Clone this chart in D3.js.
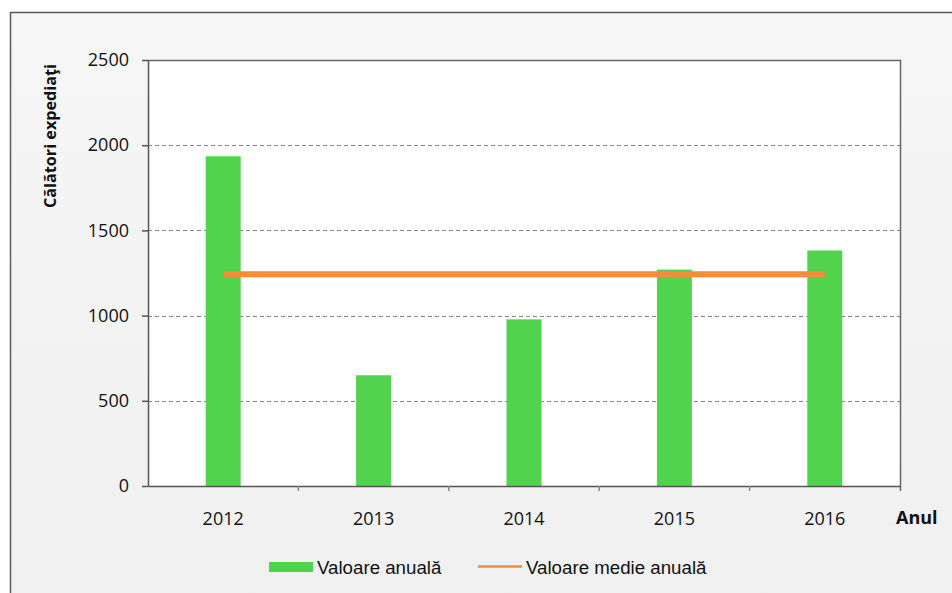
<!DOCTYPE html>
<html><head><meta charset="utf-8">
<script src="https://cdn.jsdelivr.net/npm/d3@7"></script>
<style>body{margin:0;background:#fff;}svg{display:block;}</style>
</head><body>
<svg id="c" width="952" height="593"></svg>
<script>
const years = ["2012","2013","2014","2015","2016"];
const annualValues = [1935, 650, 978, 1270, 1382];
const yTicks = [0, 500, 1000, 1500, 2000, 2500];
const seriesNames = ["Valoare anuală", "Valoare medie anuală"];
const yTitle = "Călători expediaţi";
const xTitle = "Anul";

const meanValue = d3.mean(annualValues);
const svg = d3.select("#c");
const m = {l:148, t:60, r:900, b:486};

// outer frame
const defs = svg.append("defs");
const g1 = defs.append("linearGradient").attr("id","bg").attr("x1",0).attr("y1",0).attr("x2",0).attr("y2",1);
g1.append("stop").attr("offset","0").attr("stop-color","#f6f6f6");
g1.append("stop").attr("offset","1").attr("stop-color","#f0f0f0");
svg.append("rect").attr("x",10.5).attr("y",12.5).attr("width",960).attr("height",600)
  .attr("fill","url(#bg)").attr("stroke","#5a5a5a").attr("stroke-width",1.5);

const x = d3.scaleBand().domain(years).range([m.l, m.r]).paddingInner(0).paddingOuter(0);
const y = d3.scaleLinear().domain([0, 2500]).range([m.b, m.t]);

// plot area
svg.append("rect").attr("x",m.l).attr("y",m.t).attr("width",m.r-m.l).attr("height",m.b-m.t).attr("fill","#fff");

// gridlines
svg.append("g").selectAll("line").data(yTicks.filter(v=>v>0 && v<2500)).join("line")
  .attr("x1",m.l).attr("x2",m.r).attr("y1",d=>Math.round(y(d))+0.5).attr("y2",d=>Math.round(y(d))+0.5)
  .attr("stroke","#8a8a8a").attr("stroke-width",1).attr("stroke-dasharray","4,3");

// bars
const bw = 35;
svg.append("g").selectAll("rect").data(annualValues).join("rect")
  .attr("x",(d,i)=>x(years[i])+x.bandwidth()/2-bw/2).attr("width",bw)
  .attr("y",d=>y(d)).attr("height",d=>y(0)-y(d)).attr("fill","#52d34e");

// mean line
svg.append("line")
  .attr("x1",x(years[0])+x.bandwidth()/2).attr("x2",x(years[years.length-1])+x.bandwidth()/2)
  .attr("y1",y(meanValue)).attr("y2",y(meanValue))
  .attr("stroke","#f68b3a").attr("stroke-width",6);

// top & right border of plot
svg.append("path").attr("d",`M${m.l},${m.t+0.5}H${m.r+0.5}V${m.b+5}`).attr("fill","none").attr("stroke","#666").attr("stroke-width",1.5);

const tickFont = "'Open Sans', sans-serif";
// y axis
const ya = svg.append("g").attr("transform",`translate(${m.l},0)`)
  .call(d3.axisLeft(y).tickValues(yTicks).tickFormat(d3.format("d")).tickSize(6).tickPadding(13).tickSizeOuter(0));
ya.select(".domain").attr("stroke","#555").attr("stroke-width",1.5);
ya.selectAll(".tick line").attr("stroke","#555").attr("stroke-width",1.5);
ya.selectAll("text").attr("font-family",tickFont).attr("font-size",18).attr("fill","#111");

// x axis
const xa = svg.append("g").attr("transform",`translate(0,${m.b})`)
  .call(d3.axisBottom(x).tickSize(0).tickPadding(26).tickSizeOuter(0));
xa.select(".domain").attr("stroke","#555").attr("stroke-width",1.5);
xa.selectAll("text").attr("font-family",tickFont).attr("font-size",18).attr("fill","#111");
// boundary ticks
svg.append("g").selectAll("line").data(years.slice(1)).join("line")
  .attr("x1",d=>x(d)).attr("x2",d=>x(d)).attr("y1",m.b).attr("y2",m.b+5)
  .attr("stroke","#888").attr("stroke-width",1.5);

// titles
svg.append("text").attr("transform","translate(56,136) rotate(-90)").attr("text-anchor","middle")
  .attr("font-family",tickFont).attr("font-weight","bold").attr("font-size",16.2).attr("fill","#111").text(yTitle);
svg.append("text").attr("x",896).attr("y",524)
  .attr("font-family",tickFont).attr("font-weight","bold").attr("font-size",18).attr("fill","#111").text(xTitle);

// legend
const legFont = "'Liberation Sans', Arial, sans-serif";
const lg = svg.append("g");
lg.append("rect").attr("x",269).attr("y",562).attr("width",44).attr("height",10).attr("fill","#52d34e");
lg.append("text").attr("x",317).attr("y",574).attr("font-family",legFont).attr("font-size",18.7).attr("fill","#111").text(seriesNames[0]);
lg.append("line").attr("x1",478).attr("x2",522).attr("y1",566.5).attr("y2",566.5).attr("stroke","#f68b3a").attr("stroke-width",2.5);
lg.append("text").attr("x",526).attr("y",574).attr("font-family",legFont).attr("font-size",18.7).attr("fill","#111").text(seriesNames[1]);
</script>
</body></html>
